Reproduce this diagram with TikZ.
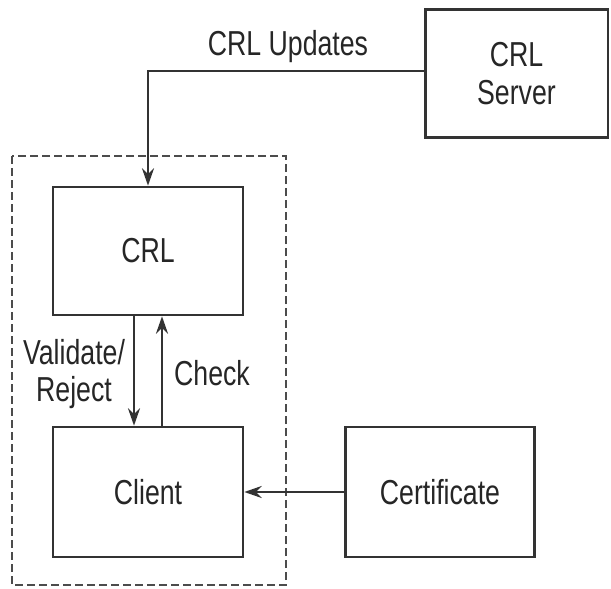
\documentclass[tikz,border=0pt]{standalone}
\usepackage{fontspec}
\setmainfont{Liberation Sans}[FakeStretch=0.77]
\usetikzlibrary{arrows.meta,calc}
\begin{document}
\begin{tikzpicture}[x=0.75pt,y=-0.75pt,
  every node/.style={font=\fontsize{26}{28}\selectfont, text=black!85},
  box/.style={draw=black!80, line width=2pt, fill=white, inner sep=0pt},
  arr/.style={draw=black!80, line width=1.8pt, -{Stealth[length=13pt,width=9pt]}},
  group/.style={draw=black!70, line width=1.1pt, dash pattern=on 6pt off 3pt}]
\useasboundingbox (0,0) rectangle (611,589);
\draw[group] (12,156) rectangle (286,585);
\node[box, minimum width=137pt, minimum height=96pt, align=center] (server) at (516.5,73.5) {CRL\\Server};
\node[box, minimum width=142.5pt, minimum height=96pt] (crl) at (148,251) {CRL};
\node[box, minimum width=142.5pt, minimum height=97.5pt] (client) at (148,492) {Client};
\node[box, minimum width=141.75pt, minimum height=97.5pt] (cert) at (440,492) {Certificate};
\coordinate (bend) at (148,71);
\draw[arr] (server.west |- bend) -- (bend) -- (crl.north);
\node (upd) at (288,47) {CRL Updates};
\coordinate (vtop) at ($(crl.south)+(-14,0)$);
\coordinate (vbot) at ($(client.north)+(-14,0)$);
\coordinate (ctop) at ($(crl.south)+(14,0)$);
\coordinate (cbot) at ($(client.north)+(14,0)$);
\draw[arr] (vtop) -- (vbot);
\draw[arr] (cbot) -- (ctop);
\node[align=center] (val) at (74,374) {Validate/\\Reject};
\node (chk) at (212,373) {Check};
\draw[arr] (cert.west) -- (client.east);
\end{tikzpicture}
\end{document}
